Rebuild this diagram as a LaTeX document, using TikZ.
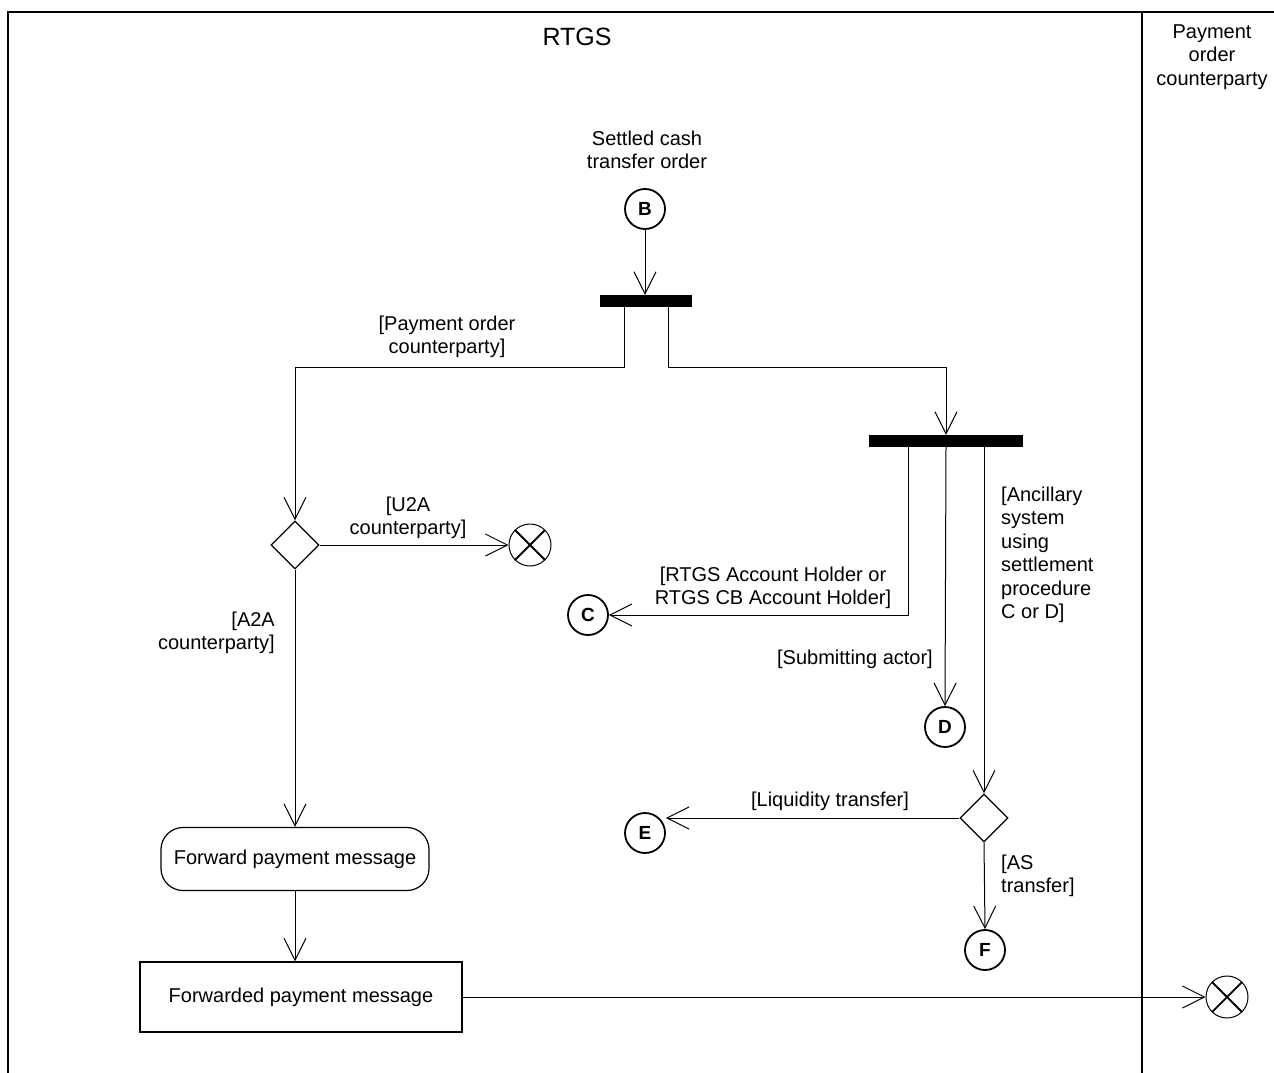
\documentclass[tikz,border=0pt]{standalone}
\usepackage{fontspec}
\setmainfont{Liberation Sans}
\usetikzlibrary{shapes.geometric,arrows.meta}
\begin{document}
\begin{tikzpicture}[x=1pt,y=-1pt,
  every node/.style={font=\fontsize{20}{23.5}\selectfont},
  lbl/.style={align=center,inner sep=0pt},
  conn/.style={circle,draw,line width=1.8pt,minimum size=40pt,inner sep=0pt,font=\fontsize{19}{20}\selectfont\bfseries},
  fin/.style={circle,draw,line width=1pt,minimum size=42pt,inner sep=0pt},
  dec/.style={diamond,draw,line width=1.2pt,minimum width=48pt,minimum height=48pt,inner sep=0pt},
  bar/.style={fill=black,inner sep=0pt,minimum height=12pt},
  arr/.style={line width=1pt,-{Straight Barb[length=22pt,width=22pt]}},
  xline/.style={line width=1.8pt}]
\useasboundingbox (0,0) rectangle (1274,1073);
% frame
\draw[line width=2pt] (1274,12) -- (8,12) -- (8,1073);
\draw[line width=2pt] (1142,12) -- (1142,1073);
\node[font=\fontsize{25}{28}\selectfont] (title) at (577,37) {RTGS};
\node[lbl] (lane2) at (1212,57) {Payment\\order\\counterparty};
% nodes
\node[lbl] (settled) at (647,150) {Settled cash\\transfer order};
\node[conn] (B) at (645,209) {B};
\node[bar,minimum width=92pt] (bar1) at (646,301) {};
\node[bar,minimum width=154pt] (bar2) at (946,441) {};
\node[dec] (d1) at (295,545) {};
\node[fin] (x1) at (530,545) {};
\draw[xline] (x1.45) -- (x1.225) (x1.135) -- (x1.315);
\node[draw,rounded corners=22pt,line width=1.2pt,minimum width=268pt,minimum height=63pt] (fwd) at (295,859) {Forward payment message};
\node[draw,line width=1.2pt,minimum width=322pt,minimum height=70pt] (fwdd) at (301,997) {Forwarded payment message};
\node[fin] (x2) at (1227,997) {};
\draw[xline] (x2.45) -- (x2.225) (x2.135) -- (x2.315);
\node[conn] (C) at (588,615) {C};
\node[conn] (D) at (945,727) {D};
\node[dec] (d2) at (984,818) {};
\node[conn] (E) at (645,833) {E};
\node[conn] (F) at (985,950) {F};
% connectors
\draw[arr] (B) -- (B |- bar1.north);
\draw[arr] ([xshift=-22pt]bar1.south) -- ++(0,60) -| (d1.north);
\draw[arr] ([xshift=22pt]bar1.south) -- ++(0,60) -| (bar2.north);
\draw[arr] ([xshift=-38pt]bar2.south) |- (C.east);
\draw[arr] (bar2.south) -- (D.north);
\draw[arr] ([xshift=38pt]bar2.south) -- (d2.north);
\draw[arr] (d2.west) -- (E.east |- d2.west);
\draw[arr] (d2.south) -- (F.north);
\draw[arr] (d1.east) -- (x1.west);
\draw[arr] (d1.south) -- (fwd.north);
\draw[arr] (fwd.south) -- (fwd.south |- fwdd.north);
\draw[arr] (fwdd.east) -- (x2.west);
% labels
\node[lbl] (l1) at (447,337) {[Payment order\\counterparty]};
\node[lbl] (l2) at (408,518) {[U2A\\counterparty]};
\node[lbl,align=right,anchor=east] (l3) at (275,633) {[A2A\\counterparty]};
\node[lbl] (l4) at (773,588) {[RTGS Account Holder or\\RTGS CB Account Holder]};
\node[lbl,anchor=east] (l5) at (933,659) {[Submitting actor]};
\node[lbl,align=left,anchor=west] (l6) at (1001,555) {[Ancillary\\system\\using\\settlement\\procedure\\C or D]};
\node[lbl] (l7) at (830,801) {[Liquidity transfer]};
\node[lbl,align=left,anchor=west] (l8) at (1001,876) {[AS\\transfer]};
\end{tikzpicture}
\end{document}
